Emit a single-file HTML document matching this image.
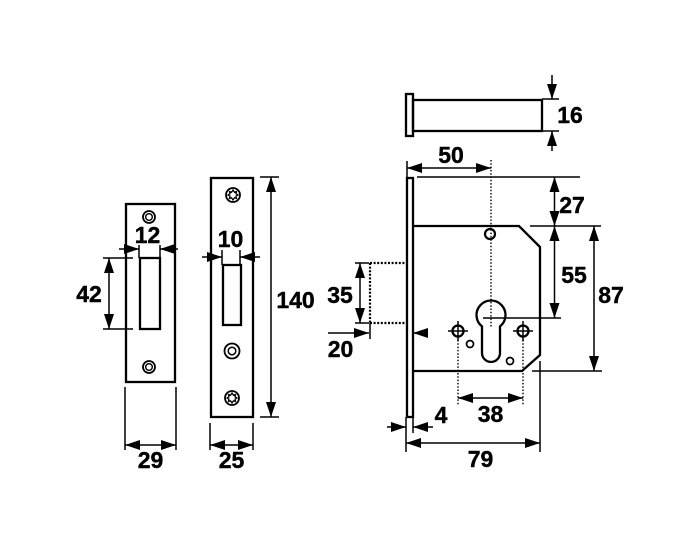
<!DOCTYPE html>
<html><head><meta charset="utf-8"><style>
html,body{margin:0;padding:0;background:#fff;}
svg{display:block;}
text{font-family:"Liberation Sans",Arial,sans-serif;font-weight:bold;font-size:23px;fill:#000;text-anchor:middle;stroke:#000;stroke-width:0.4;}
</style></head><body>
<svg width="700" height="545" viewBox="0 0 700 545" xmlns="http://www.w3.org/2000/svg">
<defs>
<marker id="a" markerUnits="userSpaceOnUse" markerWidth="15" markerHeight="10" refX="15" refY="5" orient="auto-start-reverse"><path d="M0,0 L15,5 L0,10 Z" fill="#000"/></marker>
</defs>
<rect width="700" height="545" fill="#fff"/>
<g fill="none" stroke="#000">
<!-- strike plate -->
<rect x="126" y="204" width="49" height="178" stroke-width="2.3"/>
<rect x="140" y="258" width="20" height="71" stroke-width="2.3"/>
<circle cx="149" cy="217" r="6" stroke-width="1.8"/><circle cx="149" cy="217" r="3.3" stroke-width="1.4"/>
<circle cx="149" cy="367" r="6" stroke-width="1.8"/><circle cx="149" cy="367" r="3.3" stroke-width="1.4"/>
<!-- forend -->
<rect x="211" y="178" width="42" height="239" stroke-width="2.3"/>
<rect x="223" y="265" width="18" height="60" stroke-width="2.3"/>
<circle cx="232" cy="351" r="7.5" stroke-width="1.8"/><circle cx="232" cy="351" r="3.8" stroke-width="1.5"/>
<circle cx="233" cy="195" r="7" stroke-width="1.8"/>
<polygon points="233,190 234.5,192.2 236.5,191.5 236,193.8 238,195 236,196.2 236.5,198.5 234.5,197.8 233,200 231.5,197.8 229.5,198.5 230,196.2 228,195 230,193.8 229.5,191.5 231.5,192.2" stroke-width="1.3"/>
<circle cx="232" cy="398" r="7" stroke-width="1.8"/>
<polygon points="232,393 233.5,395.2 235.5,394.5 235,396.8 237,398 235,399.2 235.5,401.5 233.5,400.8 232,403 230.5,400.8 228.5,401.5 229,399.2 227,398 229,396.8 228.5,394.5 230.5,395.2" stroke-width="1.3"/>
<!-- bolt -->
<rect x="406" y="94" width="7" height="42" stroke-width="2.3"/>
<rect x="413" y="100" width="129" height="31" stroke-width="2.3"/>
<!-- faceplate -->
<rect x="407" y="178" width="6" height="239" stroke-width="2.3"/>
<!-- body -->
<path d="M413,226 L519,226 L540,247 L540,355 L522,371 L413,371" stroke-width="2.3"/>
<circle cx="490" cy="234" r="5" stroke-width="2.2"/>
<path d="M482,326.4 A14.5,14.5 0 1 1 500,326.4 L500,353 A9,9 0 0 1 482,353 Z" stroke-width="2.3"/>
<circle cx="458" cy="331" r="5.5" stroke-width="2.3"/>
<circle cx="523" cy="331" r="5.5" stroke-width="2.3"/>
<circle cx="470" cy="344" r="3.5" stroke-width="1.7"/>
<circle cx="510" cy="361" r="3.5" stroke-width="1.7"/>
</g>
<g fill="none" stroke="#000" stroke-width="1.5">
<!-- crosshairs -->
<path d="M448,331 H468 M458,321 V341 M513,331 H533 M523,321 V341"/>
<!-- 12 -->
<path d="M119,249 L139,249" marker-end="url(#a)"/>
<path d="M178,249 L160,249" marker-end="url(#a)"/>
<path d="M139,245 V258 M160,245 V258"/>
<!-- 42 -->
<path d="M109,258 L109,329" marker-start="url(#a)" marker-end="url(#a)"/>
<path d="M103,258 H133 M103,329 H133"/>
<!-- 29 -->
<path d="M125,445 L176,445" marker-start="url(#a)" marker-end="url(#a)"/>
<path d="M125,387 V450 M176,387 V450"/>
<!-- 10 -->
<path d="M202,257 L222,257" marker-end="url(#a)"/>
<path d="M260,257 L240,257" marker-end="url(#a)"/>
<path d="M222,250 V265 M240,250 V265"/>
<!-- 25 -->
<path d="M210,445 L253,445" marker-start="url(#a)" marker-end="url(#a)"/>
<path d="M210,423 V450 M253,423 V450"/>
<!-- 140 -->
<path d="M271,177 L271,417" marker-start="url(#a)" marker-end="url(#a)"/>
<path d="M260,177 H279 M260,417 H279"/>
<!-- 16 -->
<path d="M552,75 L552,99" marker-end="url(#a)"/>
<path d="M552,151 L552,131" marker-end="url(#a)"/>
<path d="M542,99 H559 M542,131 H559"/>
<!-- 50 -->
<path d="M407,168 L491,168" marker-start="url(#a)" marker-end="url(#a)"/>
<path d="M407,161 V177"/>
<path d="M417,177 H580"/>
<!-- 27 / 55 / 87 -->
<path d="M554.5,177 L554.5,226" marker-start="url(#a)" marker-end="url(#a)"/>
<path d="M554.5,226 L554.5,318" marker-start="url(#a)" marker-end="url(#a)"/>
<path d="M594,226 L594,371" marker-start="url(#a)" marker-end="url(#a)"/>
<path d="M530,226 H601 M483,318 H561 M532,371 H602"/>
<!-- 79 -->
<path d="M540,361 V452 M406,417 V452"/>
<path d="M406,443 L540,443" marker-start="url(#a)" marker-end="url(#a)"/>
<!-- 4 -->
<path d="M387,427 L406,427" marker-end="url(#a)"/>
<path d="M433,427 L413,427" marker-end="url(#a)"/>
<path d="M413,417 V433"/>
<!-- 38 -->
<path d="M458,398 L523,398" marker-start="url(#a)" marker-end="url(#a)"/>
<!-- 35 -->
<path d="M360,263 L360,323" marker-start="url(#a)" marker-end="url(#a)"/>
<path d="M355,263 H369 M355,323 H369"/>
<!-- 20 -->
<path d="M328,333 L369,333" marker-end="url(#a)"/>
<path d="M428,333 L413,333" marker-end="url(#a)"/>
<path d="M370,323 V339"/>
</g>
<g fill="none" stroke="#000" stroke-width="1.4" stroke-dasharray="1.5,1.8">
<path d="M491,160 V327"/>
<path d="M458,340 V405 M523,340 V405"/>
</g>
<g fill="none" stroke="#000" stroke-width="2.2" stroke-dasharray="2,1.6">
<path d="M370,263 H406 M370,323 H406 M370,263 V323"/>
</g>
<text x="147.5" y="243">12</text>
<text x="89" y="302">42</text>
<text x="150.5" y="468">29</text>
<text x="230.5" y="247">10</text>
<text x="231.5" y="468">25</text>
<text x="295.5" y="308">140</text>
<text x="570" y="123">16</text>
<text x="451" y="163">50</text>
<text x="572" y="213">27</text>
<text x="574" y="283">55</text>
<text x="611" y="303">87</text>
<text x="340" y="303">35</text>
<text x="340.5" y="357">20</text>
<text x="441" y="423">4</text>
<text x="490.5" y="422">38</text>
<text x="480.5" y="467">79</text>
</svg>
</body></html>
